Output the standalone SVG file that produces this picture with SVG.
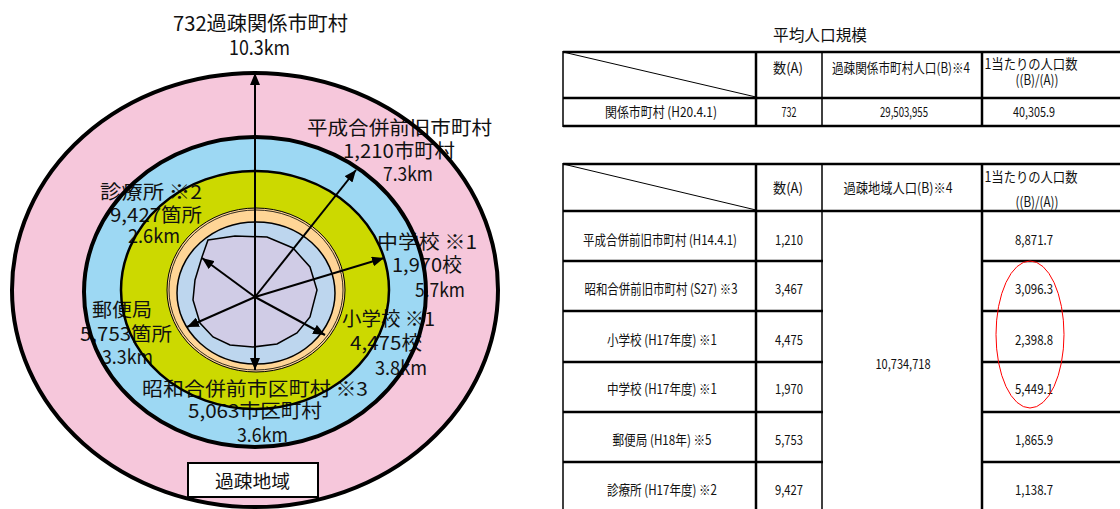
<svg xmlns="http://www.w3.org/2000/svg" width="1120" height="509" viewBox="0 0 1120 509">
<style>
.lbl{font-family:"Noto Sans CJK JP","Noto Sans",sans-serif;font-size:19px;fill:#111}
.ttl{font-family:"Noto Sans CJK JP","Noto Sans",sans-serif;font-size:20px;fill:#111}
.tb{font-family:"Noto Sans CJK JP","Noto Sans",sans-serif;font-size:14px;fill:#111;text-anchor:middle}
.tl{stroke:#000;stroke-width:2.5;fill:none}
.tv{stroke:#000;stroke-width:1.5;fill:none}
.ol{fill:none;stroke:#000}
.ar{stroke:#000;stroke-width:2;fill:none;marker-end:url(#ah)}
</style>
<defs>
<marker id="ah" viewBox="0 0 12 10" refX="12" refY="5" markerWidth="12" markerHeight="10" markerUnits="userSpaceOnUse" orient="auto-start-reverse">
<path d="M0,0 L12,5 L0,10 z" fill="#000"/>
</marker>
</defs>
<rect width="1120" height="509" fill="#fff"/>

<g id="rings-fill">
<ellipse cx="255" cy="290" rx="243" ry="217" fill="#F6C7DB"/>
<ellipse cx="255" cy="292" rx="171" ry="155" fill="#9DD8F3"/>
<ellipse cx="255" cy="290" rx="134" ry="119" fill="#CCD900"/>
<ellipse cx="256" cy="290" rx="89" ry="82" fill="#FFD596"/>
<ellipse cx="256" cy="293" rx="79" ry="71" fill="#BDD6EE"/>
<polygon points="208,240 235,236 267,237 293,248 310,267 317,290 310,317 297,333 277,344 253,347 230,345 213,337 200,323 193,300 195,280 202,257" fill="#D0CCE6"/>
</g>

<g id="title">
<text class="ttl" x="173" y="31" textLength="175" lengthAdjust="spacingAndGlyphs">732過疎関係市町村</text>
<text class="ttl" x="229" y="55" textLength="61" lengthAdjust="spacingAndGlyphs">10.3km</text>
</g>

<g id="label-heisei">
<text class="lbl" x="307" y="135" textLength="185" lengthAdjust="spacingAndGlyphs">平成合併前旧市町村</text>
<text class="lbl" x="343" y="158" textLength="112" lengthAdjust="spacingAndGlyphs">1,210市町村</text>
<text class="lbl" x="383" y="181" textLength="50" lengthAdjust="spacingAndGlyphs">7.3km</text>
</g>
<g id="label-clinic">
<text class="lbl" x="100" y="199" textLength="102" lengthAdjust="spacingAndGlyphs">診療所 ※2</text>
<text class="lbl" x="110" y="222" textLength="92" lengthAdjust="spacingAndGlyphs">9,427箇所</text>
<text class="lbl" x="128" y="243" textLength="52" lengthAdjust="spacingAndGlyphs">2.6km</text>
</g>
<g id="label-junior">
<text class="lbl" x="377" y="249" textLength="100" lengthAdjust="spacingAndGlyphs">中学校 ※1</text>
<text class="lbl" x="392" y="272" textLength="70" lengthAdjust="spacingAndGlyphs">1,970校</text>
<text class="lbl" x="415" y="297" textLength="50" lengthAdjust="spacingAndGlyphs">5.7km</text>
</g>
<g id="label-post">
<text class="lbl" x="92" y="317" textLength="60" lengthAdjust="spacingAndGlyphs">郵便局</text>
<text class="lbl" x="80" y="341" textLength="92" lengthAdjust="spacingAndGlyphs">5,753箇所</text>
<text class="lbl" x="102" y="364" textLength="51" lengthAdjust="spacingAndGlyphs">3.3km</text>
</g>
<g id="label-elementary">
<text class="lbl" x="342" y="326" textLength="93" lengthAdjust="spacingAndGlyphs">小学校 ※1</text>
<text class="lbl" x="350" y="350" textLength="72" lengthAdjust="spacingAndGlyphs">4,475校</text>
<text class="lbl" x="375" y="375" textLength="52" lengthAdjust="spacingAndGlyphs">3.8km</text>
</g>
<g id="label-showa">
<text class="lbl" x="142" y="396" textLength="226" lengthAdjust="spacingAndGlyphs">昭和合併前市区町村 ※3</text>
<text class="lbl" x="188" y="418" textLength="134" lengthAdjust="spacingAndGlyphs">5,063市区町村</text>
<text class="lbl" x="237" y="442" textLength="51" lengthAdjust="spacingAndGlyphs">3.6km</text>
</g>

<g id="rings-outline">
<ellipse class="ol" cx="255" cy="290" rx="243" ry="217" stroke-width="4"/>
<ellipse class="ol" cx="255" cy="292" rx="171" ry="155" stroke-width="4"/>
<ellipse class="ol" cx="255" cy="290" rx="134" ry="119" stroke-width="2.5"/>
<ellipse class="ol" cx="256" cy="290" rx="89" ry="82" stroke-width="1"/>
<ellipse class="ol" cx="256" cy="290" rx="87" ry="80" stroke-width="0.8"/>
<ellipse class="ol" cx="256" cy="293" rx="79" ry="71" stroke-width="1.5"/>
<polygon class="ol" stroke-width="1.5" points="208,240 235,236 267,237 293,248 310,267 317,290 310,317 297,333 277,344 253,347 230,345 213,337 200,323 193,300 195,280 202,257"/>
</g>

<g id="connectors">
<line class="ar" x1="255" y1="297" x2="255" y2="73"/>
<line class="ar" x1="255" y1="297" x2="255" y2="370"/>
<line class="ar" x1="255" y1="297" x2="356" y2="170"/>
<line class="ar" x1="255" y1="297" x2="384" y2="258"/>
<line class="ar" x1="255" y1="297" x2="325" y2="335" stroke-width="1.6"/>
<line class="ar" x1="255" y1="297" x2="202" y2="258" stroke-width="1.6"/>
<line class="ar" x1="255" y1="297" x2="187" y2="327"/>
</g>

<g id="legend-box">
<rect x="188" y="463" width="130" height="34" fill="#fff" stroke="#000" stroke-width="2"/>
<text class="ttl" x="215" y="488" font-size="18" textLength="75" lengthAdjust="spacingAndGlyphs" style="font-size:18px">過疎地域</text>
</g>

<g id="table-title">
<text class="tb" x="820" y="41" style="font-size:16px" textLength="94" lengthAdjust="spacingAndGlyphs">平均人口規模</text>
</g>

<g id="table-1">
<line class="tl" x1="563" y1="52" x2="1120" y2="52"/>
<line class="tl" x1="563" y1="98" x2="1120" y2="98"/>
<line class="tl" x1="563" y1="126" x2="1120" y2="126"/>
<line class="tv" x1="563" y1="51" x2="563" y2="127"/>
<line class="tl" x1="756" y1="51" x2="756" y2="127"/>
<line class="tv" x1="822" y1="51" x2="822" y2="127"/>
<line class="tl" x1="982" y1="51" x2="982" y2="127"/>
<line x1="563" y1="52" x2="756" y2="97" stroke="#000" stroke-width="1"/>
<text class="tb" x="788" y="73" textLength="30" lengthAdjust="spacingAndGlyphs">数(A)</text>
<text class="tb" x="901" y="73" textLength="138" lengthAdjust="spacingAndGlyphs">過疎関係市町村人口(B)※4</text>
<text class="tb" x="1031" y="69" textLength="93" lengthAdjust="spacingAndGlyphs">1当たりの人口数</text>
<text class="tb" x="1037" y="85" textLength="43" lengthAdjust="spacingAndGlyphs">((B)/(A))</text>
<text class="tb" x="661" y="117" textLength="112" lengthAdjust="spacingAndGlyphs">関係市町村 (H20.4.1)</text>
<text class="tb" x="789" y="117" textLength="15" lengthAdjust="spacingAndGlyphs">732</text>
<text class="tb" x="904" y="117" textLength="48" lengthAdjust="spacingAndGlyphs">29,503,955</text>
<text class="tb" x="1034" y="117" textLength="42" lengthAdjust="spacingAndGlyphs">40,305.9</text>
</g>

<g id="table-2">
<line class="tl" x1="563" y1="164" x2="1120" y2="164"/>
<line class="tl" x1="563" y1="211" x2="1120" y2="211"/>
<line class="tl" x1="563" y1="261" x2="823" y2="261"/>
<line class="tl" x1="982" y1="261" x2="1120" y2="261"/>
<line class="tl" x1="563" y1="311" x2="823" y2="311"/>
<line class="tl" x1="982" y1="311" x2="1120" y2="311"/>
<line class="tl" x1="563" y1="362" x2="823" y2="362"/>
<line class="tl" x1="982" y1="362" x2="1120" y2="362"/>
<line class="tl" x1="563" y1="412" x2="823" y2="412"/>
<line class="tl" x1="982" y1="412" x2="1120" y2="412"/>
<line class="tl" x1="563" y1="462" x2="823" y2="462"/>
<line class="tl" x1="982" y1="462" x2="1120" y2="462"/>
<line class="tv" x1="563" y1="163" x2="563" y2="509"/>
<line class="tl" x1="756" y1="163" x2="756" y2="509"/>
<line class="tv" x1="822" y1="163" x2="822" y2="509" stroke="#555"/>
<line class="tl" x1="982" y1="163" x2="982" y2="509"/>
<line x1="563" y1="164" x2="756" y2="210" stroke="#000" stroke-width="1"/>
<text class="tb" x="788" y="193" textLength="30" lengthAdjust="spacingAndGlyphs">数(A)</text>
<text class="tb" x="898" y="193" textLength="109" lengthAdjust="spacingAndGlyphs">過疎地域人口(B)※4</text>
<text class="tb" x="1031" y="182" textLength="93" lengthAdjust="spacingAndGlyphs">1当たりの人口数</text>
<text class="tb" x="1037" y="207" textLength="43" lengthAdjust="spacingAndGlyphs">((B)/(A))</text>
<text class="tb" x="660" y="245" textLength="154" lengthAdjust="spacingAndGlyphs">平成合併前旧市町村 (H14.4.1)</text>
<text class="tb" x="789" y="245" textLength="28" lengthAdjust="spacingAndGlyphs">1,210</text>
<text class="tb" x="1034" y="245" textLength="38" lengthAdjust="spacingAndGlyphs">8,871.7</text>
<text class="tb" x="661" y="294" textLength="153" lengthAdjust="spacingAndGlyphs">昭和合併前旧市町村 (S27) ※3</text>
<text class="tb" x="789" y="294" textLength="28" lengthAdjust="spacingAndGlyphs">3,467</text>
<text class="tb" x="1034" y="294" textLength="38" lengthAdjust="spacingAndGlyphs">3,096.3</text>
<text class="tb" x="662" y="345" textLength="110" lengthAdjust="spacingAndGlyphs">小学校 (H17年度) ※1</text>
<text class="tb" x="789" y="345" textLength="28" lengthAdjust="spacingAndGlyphs">4,475</text>
<text class="tb" x="1034" y="345" textLength="38" lengthAdjust="spacingAndGlyphs">2,398.8</text>
<text class="tb" x="662" y="394" textLength="110" lengthAdjust="spacingAndGlyphs">中学校 (H17年度) ※1</text>
<text class="tb" x="789" y="394" textLength="28" lengthAdjust="spacingAndGlyphs">1,970</text>
<text class="tb" x="1034" y="394" textLength="38" lengthAdjust="spacingAndGlyphs">5,449.1</text>
<text class="tb" x="662" y="445" textLength="99" lengthAdjust="spacingAndGlyphs">郵便局 (H18年) ※5</text>
<text class="tb" x="789" y="445" textLength="28" lengthAdjust="spacingAndGlyphs">5,753</text>
<text class="tb" x="1034" y="445" textLength="38" lengthAdjust="spacingAndGlyphs">1,865.9</text>
<text class="tb" x="662" y="495" textLength="110" lengthAdjust="spacingAndGlyphs">診療所 (H17年度) ※2</text>
<text class="tb" x="789" y="495" textLength="28" lengthAdjust="spacingAndGlyphs">9,427</text>
<text class="tb" x="1034" y="495" textLength="38" lengthAdjust="spacingAndGlyphs">1,138.7</text>
<text class="tb" x="903" y="369" textLength="55" lengthAdjust="spacingAndGlyphs">10,734,718</text>
<ellipse cx="1030" cy="334.5" rx="34" ry="73.5" fill="none" stroke="#FF0000" stroke-width="1"/>
</g>
</svg>
